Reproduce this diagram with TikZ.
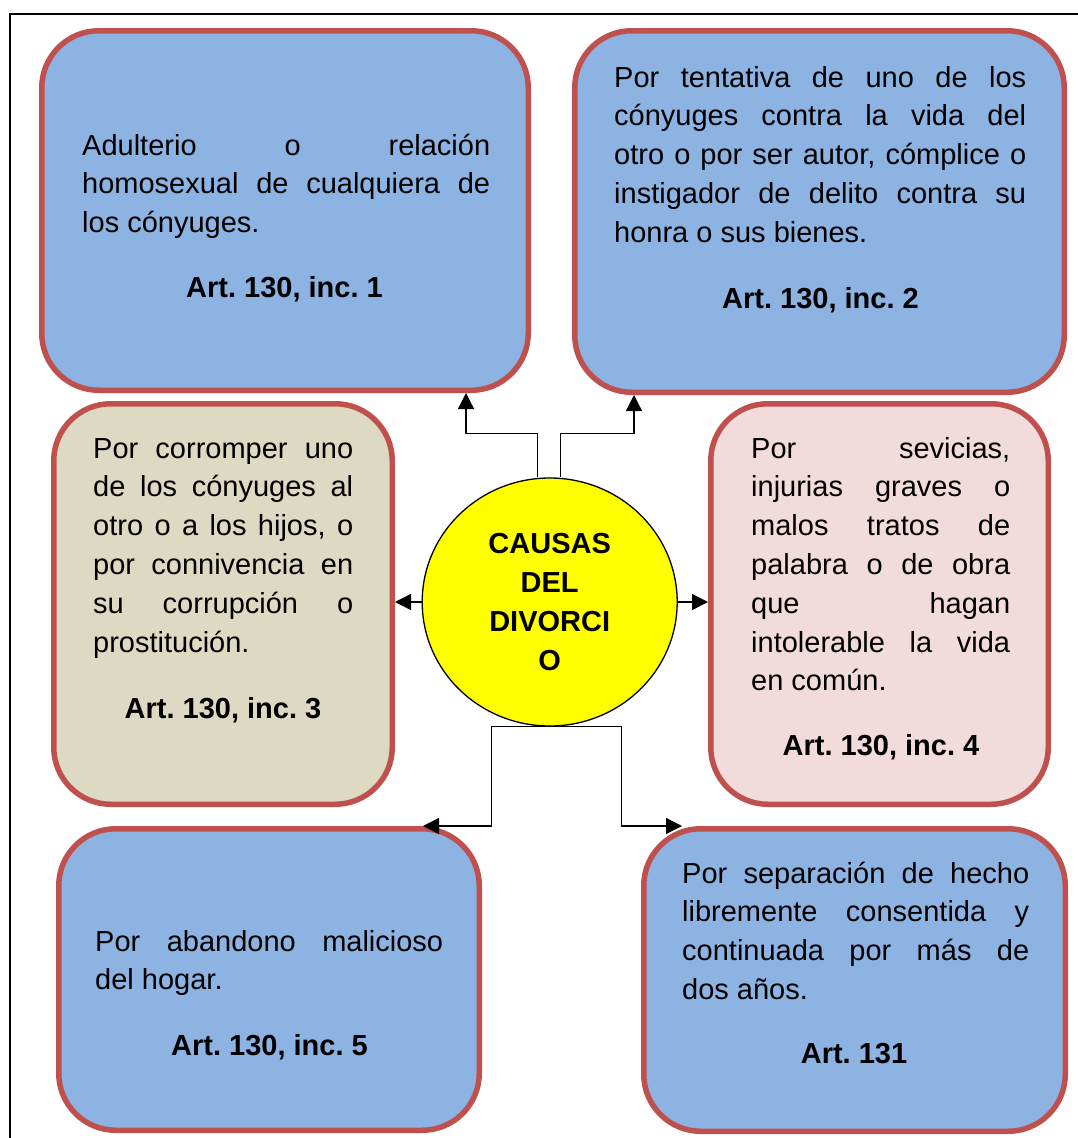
\documentclass[tikz,border=0pt]{standalone}
\usepackage{fontspec}
\setmainfont{Liberation Sans}
\usetikzlibrary{arrows.meta,shapes.geometric,calc}
\definecolor{boxblue}{HTML}{8DB3E2}
\definecolor{boxbeige}{HTML}{DDD9C3}
\definecolor{boxpink}{HTML}{F2DCDB}
\definecolor{boxred}{HTML}{C0504D}
\definecolor{circyellow}{HTML}{FFFF00}
\frenchspacing
\newcommand{\jline}[1]{\makebox[\linewidth][s]{#1}\\}
\tikzset{
  causebox/.style={draw=boxred, line width=5.5pt, rounded corners=57pt, inner sep=0pt},
  bodytext/.style={anchor=base west, inner sep=0pt, font=\fontsize{29}{38.8}\selectfont},
  arttext/.style={anchor=base, inner sep=0pt, font=\bfseries\fontsize{29}{38.8}\selectfont},
  arr/.style={draw=black, line width=1.3pt, -{Triangle[width=16pt,length=16pt]}},
}
\begin{document}
\begin{tikzpicture}[x=1pt,y=-1pt]
\useasboundingbox (0,0) rectangle (1078,1138);
\fill[white] (0,0) rectangle (1078,1138);
\draw[line width=1.5pt] (10,1150) -- (10,14) -- (1090,14);

% boxes
\node[causebox, fill=boxblue, minimum width=486.5pt, minimum height=359.5pt] (b1) at (285,210.5) {};
\node[causebox, fill=boxblue, minimum width=489.5pt, minimum height=361.5pt] (b2) at (819.5,211.5) {};
\node[causebox, fill=boxbeige, minimum width=338.5pt, minimum height=400.5pt] (b3) at (223,604) {};
\node[causebox, fill=boxpink, minimum width=337.5pt, minimum height=400.5pt] (b4) at (879.5,604) {};
\node[causebox, fill=boxblue, minimum width=420.5pt, minimum height=301.5pt] (b5) at (269,979.5) {};
\node[causebox, fill=boxblue, minimum width=421.5pt, minimum height=302.5pt] (b6) at (854.5,980) {};

% circle
\node[draw=black, ellipse, fill=circyellow, line width=1.3pt, minimum width=255pt, minimum height=248pt, inner sep=0pt, align=center, font=\bfseries\fontsize{29}{39.3}\selectfont] (c) at (549.7,602) {CAUSAS\\DEL\\DIVORCI\\O};

% texts
\node[bodytext] (t1) at (82,155) {\parbox[t]{408pt}{\jline{Adulterio o relación}\jline{homosexual de cualquiera de}los cónyuges.}};
\node[arttext] (a1) at (284.5,297) {Art. 130, inc. 1};

\node[bodytext] (t2) at (614,87) {\parbox[t]{412pt}{\jline{Por tentativa de uno de los}\jline{cónyuges contra la vida del}\jline{otro o por ser autor, cómplice o}\jline{instigador de delito contra su}honra o sus bienes.}};
\node[arttext] (a2) at (820.5,308) {Art. 130, inc. 2};

\node[bodytext] (t3) at (93,458) {\parbox[t]{260pt}{\jline{Por corromper uno}\jline{de los cónyuges al}\jline{otro o a los hijos, o}\jline{por connivencia en}\jline{su corrupción o}prostitución.}};
\node[arttext] (a3) at (223,718) {Art. 130, inc. 3};

\node[bodytext] (t4) at (751,458) {\parbox[t]{259pt}{\jline{Por sevicias,}\jline{injurias graves o}\jline{malos tratos de}\jline{palabra o de obra}\jline{que hagan}\jline{intolerable la vida}en común.}};
\node[arttext] (a4) at (881,755) {Art. 130, inc. 4};

\node[bodytext] (t5) at (95,951) {\parbox[t]{348pt}{\jline{Por abandono malicioso}del hogar.}};
\node[arttext] (a5) at (269.5,1055) {Art. 130, inc. 5};

\node[bodytext] (t6) at (682,883) {\parbox[t]{347pt}{\jline{Por separación de hecho}\jline{libremente consentida y}\jline{continuada por más de}dos años.}};
\node[arttext] (a6) at (854,1063) {Art. 131};

% connectors
\draw[arr] ([xshift=-12pt]c.north) -- ++(0,-44) -| ($(b1.south)+(181,0)$);
\draw[arr] ([xshift=11pt]c.north) -- ++(0,-44) -| ($(b2.south)+(-185.5,0)$);
\draw[arr] (c.west) -- (c.west -| b3.east);
\draw[arr] (c.east) -- (c.east -| b4.west);
\draw[arr] (c.south) -- ++(-58,0) |- ($(b5.north east)+(-59,0)$);
\draw[arr] (c.south) -- ++(72,0) |- ($(b6.north west)+(41,0)$);
\end{tikzpicture}
\end{document}
